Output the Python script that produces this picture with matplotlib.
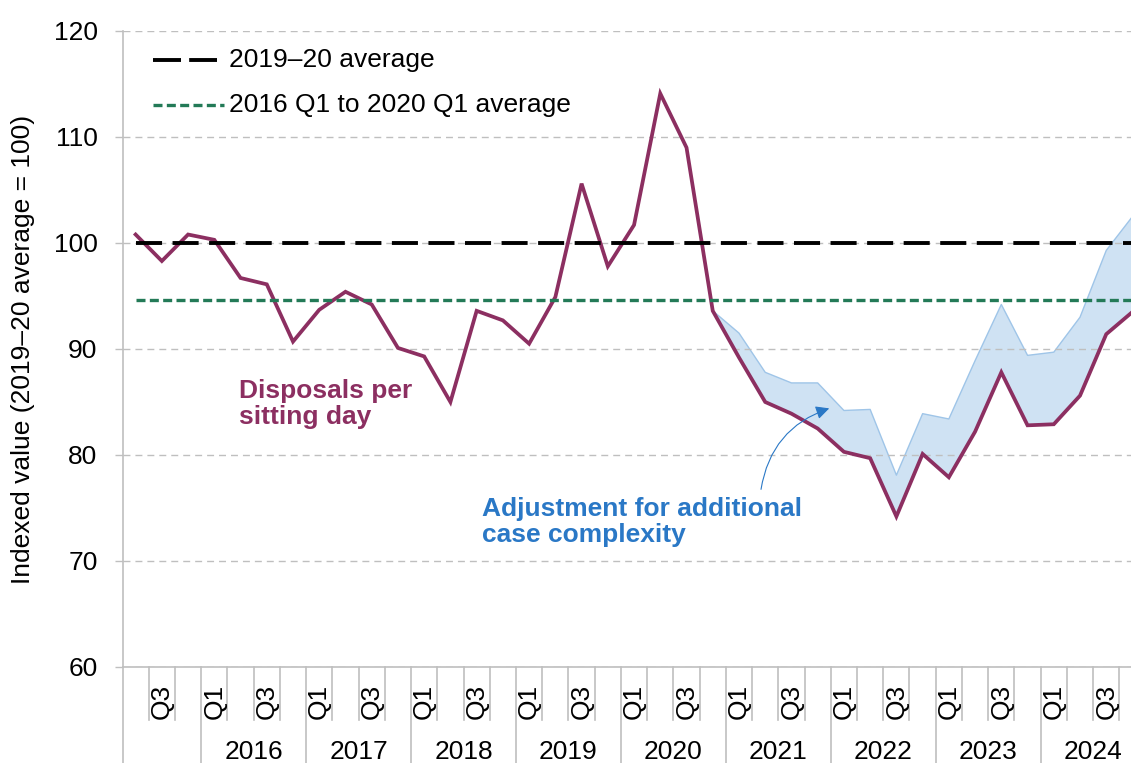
import matplotlib
matplotlib.use("Agg")
import matplotlib.pyplot as plt
import numpy as np

plt.rcParams["font.family"] = ["Liberation Sans", "DejaVu Sans"]

# quarters from 2015 Q2 to 2024 Q4
quarters = ["Q2", "Q3", "Q4"] + ["Q1", "Q2", "Q3", "Q4"] * 9
year_labels = ["", "2016", "2017", "2018", "2019", "2020", "2021", "2022", "2023", "2024"]

# disposals per sitting day, indexed (2019-20 average = 100)
disposals = [100.8, 98.3, 100.8, 100.3, 96.7, 96.1, 90.7, 93.7, 95.4, 94.2,
             90.1, 89.3, 85.0, 93.6, 92.7, 90.5, 94.9, 105.6, 97.8, 101.7,
             114.1, 109.0, 93.6, 89.2, 85.0, 83.9, 82.5, 80.3, 79.7, 74.2,
             80.1, 77.9, 82.2, 87.8, 82.8, 82.9, 85.6, 91.4, 93.5]

# adjusted for additional case complexity, from 2020 Q4 onwards
adj_start = 22
adjusted = [93.6, 91.5, 87.8, 86.8, 86.8, 84.2, 84.3, 78.1, 83.9, 83.4,
            88.9, 94.2, 89.4, 89.7, 93.0, 99.3, 102.5]

avg_1920 = 100.0
avg_pre = 94.6

PURPLE = "#8c2f61"
GREEN = "#237a57"
BLUE = "#2a78c6"
GREY = "#bfbfbf"
FS = 19

W, H = 1131, 763
fig = plt.figure(figsize=(W / 100, H / 100), dpi=100)
# axes run a little past the right edge of the picture, as in the original
ax = fig.add_axes([122.5 / W, 96 / H, 1023.1 / W, 636 / H])

x = np.arange(len(disposals))
x_adj = np.arange(adj_start, adj_start + len(adjusted))

ax.fill_between(x_adj, disposals[adj_start:], adjusted, facecolor="#cfe2f3",
                edgecolor="none", zorder=1)
ax.plot(x_adj, adjusted, color="#9fc5e8", lw=1.0, zorder=1.2)
ax.plot(x, disposals, color=PURPLE, lw=2.7, zorder=2.5, solid_joinstyle="miter")
ax.plot(x, [avg_1920] * len(x), color="black", lw=2.8, dashes=(6.7, 2.7), zorder=3)
ax.plot(x, [avg_pre] * len(x), color=GREEN, lw=2.4, dashes=(2.7, 1.3), zorder=3)

ax.set_xlim(-0.5, len(disposals) - 0.5)
ax.set_ylim(60, 120)
ax.set_yticks(range(60, 121, 10))
ax.set_xticks([])
ax.yaxis.grid(True, color=GREY, lw=1.0, linestyle=(0, (5, 3.6)))
ax.tick_params(axis="y", length=6, width=1, color=GREY, pad=12, labelsize=FS)
for s in ["top", "right"]:
    ax.spines[s].set_visible(False)
for s in ["left", "bottom"]:
    ax.spines[s].set_color(GREY)
    ax.spines[s].set_linewidth(1.2)
ax.set_ylabel("Indexed value (2019\u201320 average = 100)", fontsize=FS, labelpad=13)

# category axis: quarters and years
tr = ax.get_xaxis_transform()
for i, q in enumerate(quarters):
    if q in ("Q1", "Q3"):
        ax.text(i, -0.054, q, transform=tr, rotation=90, ha="center", va="center",
                fontsize=FS)
    b = i - 0.5
    if q == "Q1" or i == 0:
        ax.plot([b, b], [0, -0.2], transform=tr, color=GREY, lw=1.2, clip_on=False)
    else:
        ax.plot([b, b], [0, -0.083], transform=tr, color=GREY, lw=1.2, clip_on=False)

starts = [0] + [i for i, q in enumerate(quarters) if q == "Q1"]
ends = starts[1:] + [len(quarters)]
for lab, s, e in zip(year_labels, starts, ends):
    if lab:
        ax.text((s + e - 1) / 2, -0.1336, lab, transform=tr, ha="center", va="center",
                fontsize=FS)

# legend drawn by hand
fig.add_artist(plt.Line2D([153 / W, 217 / W], [1 - 60 / H, 1 - 60 / H], color="black",
                          lw=2.8, dashes=(7.2, 2.1)))
fig.add_artist(plt.Line2D([153 / W, 224 / W], [1 - 105 / H, 1 - 105 / H], color=GREEN,
                          lw=2.4, dashes=(2.7, 1.3)))
fig.text(229 / W, 1 - 60 / H, "2019\u201320 average", fontsize=FS, va="center")
fig.text(229 / W, 1 - 105 / H, "2016 Q1 to 2020 Q1 average", fontsize=FS, va="center")

# annotations
ax.text(3.95, 87.2, "Disposals per\nsitting day", color=PURPLE, fontweight="bold",
        fontsize=FS, ha="left", va="top", linespacing=1.12)
ax.text(13.19, 76.05, "Adjustment for additional\ncase complexity", color=BLUE,
        fontweight="bold", fontsize=FS, ha="left", va="top", linespacing=1.12)
ax.annotate("", xy=(26.44, 84.4), xytext=(23.84, 76.76),
            arrowprops=dict(arrowstyle="-|>", color=BLUE, lw=0.8, mutation_scale=20,
                            connectionstyle="arc3,rad=-0.3", shrinkA=0, shrinkB=0))

fig.savefig("out.png", dpi=100)
